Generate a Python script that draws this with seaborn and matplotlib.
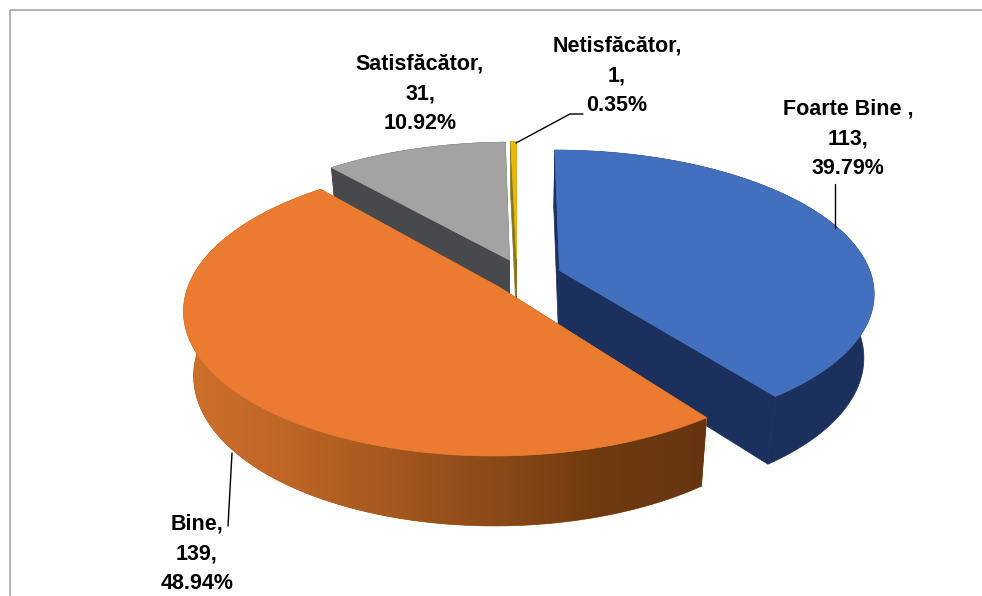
import numpy as np
import matplotlib
matplotlib.use('Agg')
import matplotlib.pyplot as plt
from matplotlib.patches import Polygon
import seaborn as sns

categorii = ['Foarte Bine ', 'Bine', 'Satisfăcător', 'Netisfăcător']
valori = [113, 139, 31, 1]
explodare = [0.124, 0.124, 0.124, 0.124]
culori = ['#4270BE', '#EA7B30', '#A3A3A3', '#E8B80E']
culori_perete = ['#1B305C', '#A85A20', '#47494C', '#8A7420']
# mici corectii pe ecran pentru fiecare felie
dx_felie = [0, 6, 0, -6]
sx_felie = [1, 0.985, 1, 1]

sns.set_theme(style='white')
plt.rcParams['font.family'] = ['Liberation Sans', 'DejaVu Sans']

# vederea 3D: centru, semiaxe, perspectiva, grosime
CX, CY = 523, 276
A, B = 312, 140
P = 0.15
GROSIME = 65


def proiectie(x, y, z=0.0, dx=0, sx=1):
    w = (1 + P * y) * (1 + 0.03 * z)
    return np.column_stack([CX + dx + sx * A * x / w, CY + (-B * y + GROSIME * z) / w])


fig = plt.figure(figsize=(9.82, 5.96), dpi=100)
ax = fig.add_axes([0, 0, 1, 1])

# unghiurile vin din ax.pie, felia e redesenata in perspectiva
felii = ax.pie(valori, explode=explodare, startangle=90, counterclock=False)[0]
unghiuri = [(f.theta1, f.theta2, f.center) for f in felii]
for f in felii:
    f.remove()

ax.set_aspect('auto')
ax.axis('off')

gradient_portocaliu = sns.blend_palette(['#D0702C', '#BE6626', '#A4581F', '#8A4A18', '#6E3A10', '#663510'], as_cmap=True)
gradient = np.linspace(0, 1, 256).reshape(1, -1)

# ordinea de desenare: ce e in spate primul
for nivel, i in enumerate([2, 3, 0, 1]):
    t1, t2, centru = unghiuri[i]
    t = np.radians(np.linspace(t1, t2, 200))
    x = centru[0] + np.cos(t)
    y = centru[1] + np.sin(t)
    xf = np.r_[centru[0], x]
    yf = np.r_[centru[1], y]
    sus = proiectie(xf, yf, dx=dx_felie[i], sx=sx_felie[i])
    jos = proiectie(xf, yf, 1.0, dx=dx_felie[i], sx=sx_felie[i])

    pereti = [
        np.vstack([sus[1:], jos[1:][::-1]]),
        np.vstack([sus[:2], jos[:2][::-1]]),
        np.vstack([sus[[0, -1]], jos[[-1, 0]]]),
    ]
    for p in pereti:
        patch = Polygon(p, closed=True, fc=culori_perete[i], ec=culori_perete[i], lw=0.5, zorder=nivel + 2)
        ax.add_patch(patch)
        if i == 1:
            img = ax.imshow(gradient, cmap=gradient_portocaliu, extent=[180, 706, 560, 100],
                            aspect='auto', zorder=nivel + 2.1)
            img.set_clip_path(patch)

    ax.add_patch(Polygon(sus, closed=True, fc=culori[i], ec=culori[i], lw=0.5, zorder=nivel + 2.2))

ax.set_xlim(0, 982)
ax.set_ylim(596, 0)

# chenarul
ax.plot([10, 10, 982], [596, 9.5, 9.5], color='#A6A6A6', lw=1.2, zorder=1)

# liniile de legatura
ax.plot([835, 835], [184, 228], color='black', lw=1, zorder=10)
ax.plot([232, 228], [453, 526], color='black', lw=1, zorder=10)
ax.plot([516, 570, 583], [143, 114, 114], color='black', lw=1, zorder=10)

pozitii = [(848, 139), (197, 554), (420, 94), (617, 76)]
total = sum(valori)
for cat, val, (px, py) in zip(categorii, valori, pozitii):
    ax.text(px, py, f'{cat},\n{val},\n{val / total * 100:.2f}%', ha='center', va='center',
            fontsize=15.5, fontweight='bold', color='black', linespacing=1.55, zorder=11)

fig.savefig('out.png', dpi=100, facecolor='white')
